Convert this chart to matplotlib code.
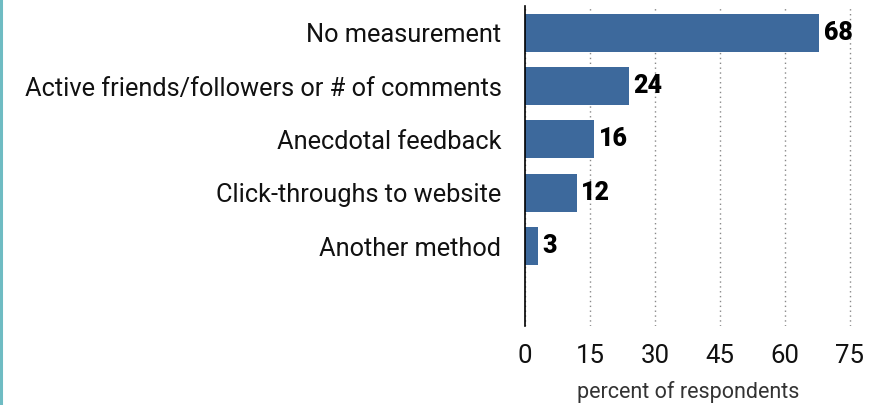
import matplotlib.pyplot as plt
from matplotlib.lines import Line2D

methods = [
    "No measurement",
    "Active friends/followers or # of comments",
    "Anecdotal feedback",
    "Click-throughs to website",
    "Another method",
]
percents = [68, 24, 16, 12, 3]
xticks = [0, 15, 30, 45, 60, 75]

plt.rcParams["font.family"] = ["Roboto", "DejaVu Sans"]

fig = plt.figure(figsize=(8.81, 4.05), dpi=100)
ax = fig.add_axes([0.596, 0.195, 0.371, 0.790])

pos = list(range(len(methods)))
ax.barh(pos, percents, height=0.71, color="#3d699c", zorder=3)

for y, v in zip(pos, percents):
    ax.text(v + 1.0, y, str(v), va="center", ha="left",
            fontsize=18, fontweight="heavy", color="black", zorder=4)

ax.set_ylim(len(methods) + 0.5, -0.5)
ax.set_xlim(0, 75.5)
ax.set_yticks(pos)
ax.set_yticklabels(methods, fontsize=18.3, color="#111111")
ax.set_xticks(xticks)
ax.set_xticklabels([str(t) for t in xticks], fontsize=18.5, color="#111111")
ax.tick_params(axis="y", length=0, pad=17)
ax.tick_params(axis="x", length=0, pad=13)
ax.set_xlabel("percent of respondents", fontsize=15.5, color="#333333",
              labelpad=9)

ax.grid(axis="x", linestyle=(0, (1, 2.5)), color="#888888", linewidth=1.0,
        zorder=0)
for s in ["top", "right", "bottom"]:
    ax.spines[s].set_visible(False)
ax.spines["left"].set_color("black")
ax.spines["left"].set_linewidth(1.2)
ax.spines["left"].set_zorder(5)

# teal rule along the left edge of the figure
fig.add_artist(Line2D([0.0015, 0.0015], [0, 1], color="#6fbcc3",
                      linewidth=2.2, transform=fig.transFigure))

fig.savefig("out.png", dpi=100)
